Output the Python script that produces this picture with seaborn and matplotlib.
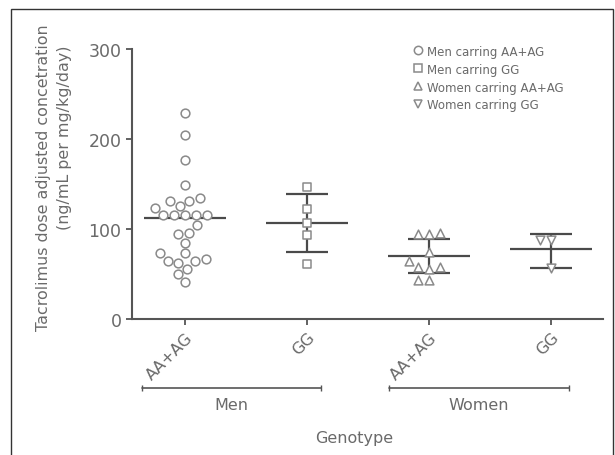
import numpy as np
import pandas as pd
import matplotlib
matplotlib.use("Agg")
import matplotlib.pyplot as plt
from matplotlib.lines import Line2D
from matplotlib.patches import Rectangle
import seaborn as sns

# values
groups = ["Men AA+AG", "Men GG", "Women AA+AG", "Women GG"]
tick_labels = ["AA+AG", "GG", "AA+AG", "GG"]
legend_labels = ["Men carring AA+AG", "Men carring GG",
                 "Women carring AA+AG", "Women carring GG"]
markers = ["o", "s", "^", "v"]

men_aa_ag = [229, 204, 177, 149, 126, 131, 131, 135, 123, 116, 116, 116, 116, 116,
             104, 96, 94, 85, 73, 73, 65, 62, 64, 67, 56, 50, 41]
men_gg = [147, 122, 107, 93, 61]
women_aa_ag = [96, 94, 94, 75, 56, 58, 58, 64, 43, 43]
women_gg = [88, 88, 57]

centre = [112, 107, 70, 78]
err_low = [np.nan, 75, 51, 57]
err_high = [np.nan, 139, 89, 95]

values = [men_aa_ag, men_gg, women_aa_ag, women_gg]
df = pd.DataFrame({
    "group": [g for g, v in zip(groups, values) for _ in v],
    "value": [x for v in values for x in v],
})

grey = "#555555"
light = "#6a6a6a"
mk = "#8a8a8a"

sns.set_style("ticks")
plt.rcParams["font.family"] = ["DejaVu Sans"]

fig = plt.figure(figsize=(6.15, 4.56), dpi=100)
ax = fig.add_axes([132 / 615, 1 - 320 / 456, (603 - 132) / 615, 270 / 456])

for g, m in zip(groups, markers):
    sns.swarmplot(data=df[df["group"] == g], x="group", y="value", order=groups,
                  marker=m, size=6.3, color="white", edgecolor=mk, linewidth=1.1,
                  ax=ax, zorder=3, clip_on=False)

# mean lines and error bars
xs = np.arange(len(groups))
ax.hlines(centre, xs - 0.335, xs + 0.335, color="#4a4a4a", lw=1.6, zorder=2)
for x, lo, hi in zip(xs, err_low, err_high):
    if np.isnan(lo):
        continue
    ax.vlines(x, lo, hi, color="#4a4a4a", lw=1.6, zorder=2)
    ax.hlines([lo, hi], x - 0.17, x + 0.17, color="#4a4a4a", lw=1.6, zorder=2)

ax.set_xlim(-0.434, 3.426)
ax.set_ylim(0, 300)
ax.set_yticks([0, 100, 200, 300])
ax.set_xticks(xs)
ax.set_xticklabels(tick_labels, rotation=45, ha="right", rotation_mode="anchor",
                   color=light, fontsize=11.5)
ax.tick_params(axis="y", labelsize=12.5, colors=grey, labelcolor=light, length=4, width=1.3)
ax.tick_params(axis="x", length=4, width=1.3, colors=grey, labelcolor=light)
ax.set_xlabel("")
ax.set_ylabel("")
sns.despine(ax=ax)
for s in ["left", "bottom"]:
    ax.spines[s].set_color(grey)
    ax.spines[s].set_linewidth(1.5)

# y label, two lines placed separately like the reference
fig.text(44 / 615, 1 - 178 / 456, "Tacrolimus dose adjusted concetration",
         rotation=90, ha="center", va="center", fontsize=11.4, color=light)
fig.text(65 / 615, 1 - 138 / 456, "(ng/mL per mg/kg/day)",
         rotation=90, ha="center", va="center", fontsize=11.4, color=light)

# sex brackets under the axis
tr = ax.get_xaxis_transform()
for (x0, x1), name in zip([(-0.35, 1.115), (1.67, 3.15)], ["Men", "Women"]):
    ax.plot([x0, x1], [-0.256, -0.256], transform=tr, color=grey, lw=1.2,
            marker="|", ms=4, clip_on=False)
    ax.text((x0 + x1) / 2, -0.318, name, transform=tr, ha="center", va="center",
            fontsize=11.5, color=light)

fig.text(354 / 615, 1 - 439 / 456, "Genotype", ha="center", va="center",
         fontsize=11.5, color=light)

handles = [Line2D([], [], ls="none", marker=m, mfc="white", mec=mk, mew=1.1, ms=6)
           for m in markers]
fig.legend(handles, legend_labels, loc="upper left", bbox_to_anchor=(400 / 615, 1 - 35 / 456),
           frameon=False, fontsize=8.5, handletextpad=0.2, labelspacing=0.42,
           labelcolor=light, handlelength=1.2)

fig.patches.append(Rectangle((11 / 615, -0.02), 602 / 615, 1 - 10 / 456 + 0.02,
                             transform=fig.transFigure, fill=False, ec="#333333", lw=1))

fig.savefig("out.png", dpi=100)
